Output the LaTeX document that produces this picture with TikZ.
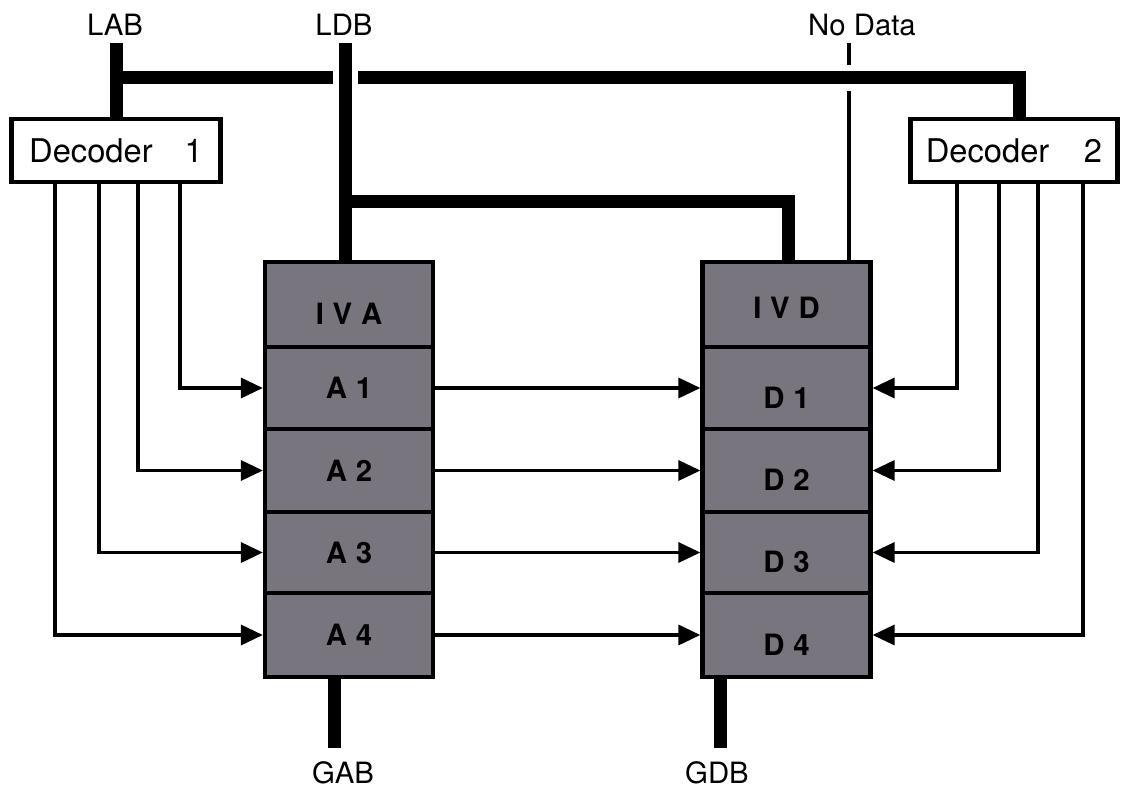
\documentclass[tikz,border=0pt]{standalone}
\usepackage{fontspec}
\setmainfont{TeX Gyre Heros}
\usetikzlibrary{arrows.meta}
\definecolor{cellgray}{RGB}{120,117,126}
\newcommand{\lsp}{\hspace{0.3em}}
\begin{document}
\begin{tikzpicture}[x=0.75pt,y=-0.75pt,
  cell/.style={draw=black, fill=cellgray, line width=3.2pt, minimum width=126pt, font=\fontsize{22}{24}\selectfont\bfseries, inner sep=0pt},
  low/.style={text height=30pt, text depth=0pt},
  dec/.style={draw=black, fill=white, line width=3.4pt, minimum height=47pt, font=\fontsize{24.5}{26}\selectfont, inner sep=0pt},
  lbl/.style={font=\fontsize{22}{25}\selectfont, inner sep=0pt},
  bus/.style={line width=9.75pt, line join=miter},
  sig/.style={line width=2.6pt, -{Triangle[length=16.5pt,width=15pt]}},
  wire/.style={line width=2.6pt}
]
\useasboundingbox (0,0) rectangle (1125,788);

% register columns
\node[cell, low, minimum height=63.75pt] (iva) at (349,304.5) {I\lsp V\lsp A};
\node[cell, minimum height=61.5pt]  (a1)  at (349,388)   {A\lsp 1};
\node[cell, minimum height=62.25pt] (a2)  at (349,470.5) {A\lsp 2};
\node[cell, minimum height=60.75pt] (a3)  at (349,552.5) {A\lsp 3};
\node[cell, minimum height=63pt]    (a4)  at (349,635)   {A\lsp 4};

\node[cell, text height=21pt, text depth=0pt, minimum height=63.75pt] (ivd) at (786.5,304.5) {I\lsp V\lsp D};
\node[cell, low, minimum height=61.5pt]  (d1)  at (786.5,388)   {D\lsp 1};
\node[cell, low, minimum height=62.25pt] (d2)  at (786.5,470.5) {D\lsp 2};
\node[cell, low, minimum height=60.75pt] (d3)  at (786.5,552.5) {D\lsp 3};
\node[cell, low, minimum height=63pt]    (d4)  at (786.5,635)   {D\lsp 4};

% decoders
\node[dec, minimum width=157pt]   (dec1) at (116,150.5)  {Decoder\hspace{24pt}1};
\node[dec, minimum width=155.6pt] (dec2) at (1014,150.5) {Decoder\hspace{26pt}2};

% labels
\node[lbl] (lab)    at (115,25)  {LAB};
\node[lbl] (ldb)    at (344,25)  {LDB};
\node[lbl] (nodata) at (862,25)  {No Data};
\node[lbl] (gab)    at (343,773) {GAB};
\node[lbl] (gdb)    at (717,773) {GDB};

% helper coordinates
\coordinate (labtop) at (116,43);
\coordinate (ldbtop) at (345.5,43);
\coordinate (ndtop)  at (849,43);
\coordinate (busL)   at (116,78);
\coordinate (busR)   at (1019,78);
\coordinate (ldbj)   at (345.5,202);
\coordinate (brR)    at (788.5,202);
\coordinate (gabend) at (334.5,748);
\coordinate (gdbend) at (720,748);
\coordinate (c1) at (55,0);
\coordinate (c2) at (99,0);
\coordinate (c3) at (138,0);
\coordinate (c4) at (180,0);
\coordinate (e1) at (957,0);
\coordinate (e2) at (999,0);
\coordinate (e3) at (1038,0);
\coordinate (e4) at (1083,0);

% buses
\draw[wire] (ndtop) -- (ndtop |- ivd.north);
\draw[bus, preaction={draw=white, line width=19pt}] (busL) -- (busR) -- (busR |- dec2.north);
\draw[bus] (labtop) -- (labtop |- dec1.north);
\draw[bus, preaction={draw=white, line width=19pt}] (ldbtop) -- (ldbtop |- iva.north);
\draw[bus] (ldbj) -- (brR) -- (brR |- ivd.north);
\draw[bus] (a4.south -| gabend) -- (gabend);
\draw[bus] (d4.south -| gdbend) -- (gdbend);

% decoder 1 select lines
\draw[sig] (dec1.south -| c4) |- (a1);
\draw[sig] (dec1.south -| c3) |- (a2);
\draw[sig] (dec1.south -| c2) |- (a3);
\draw[sig] (dec1.south -| c1) |- (a4);

% decoder 2 select lines
\draw[sig] (dec2.south -| e1) |- (d1);
\draw[sig] (dec2.south -| e2) |- (d2);
\draw[sig] (dec2.south -| e3) |- (d3);
\draw[sig] (dec2.south -| e4) |- (d4);

% A -> D
\draw[sig] (a1) -- (d1);
\draw[sig] (a2) -- (d2);
\draw[sig] (a3) -- (d3);
\draw[sig] (a4) -- (d4);
\end{tikzpicture}
\end{document}
